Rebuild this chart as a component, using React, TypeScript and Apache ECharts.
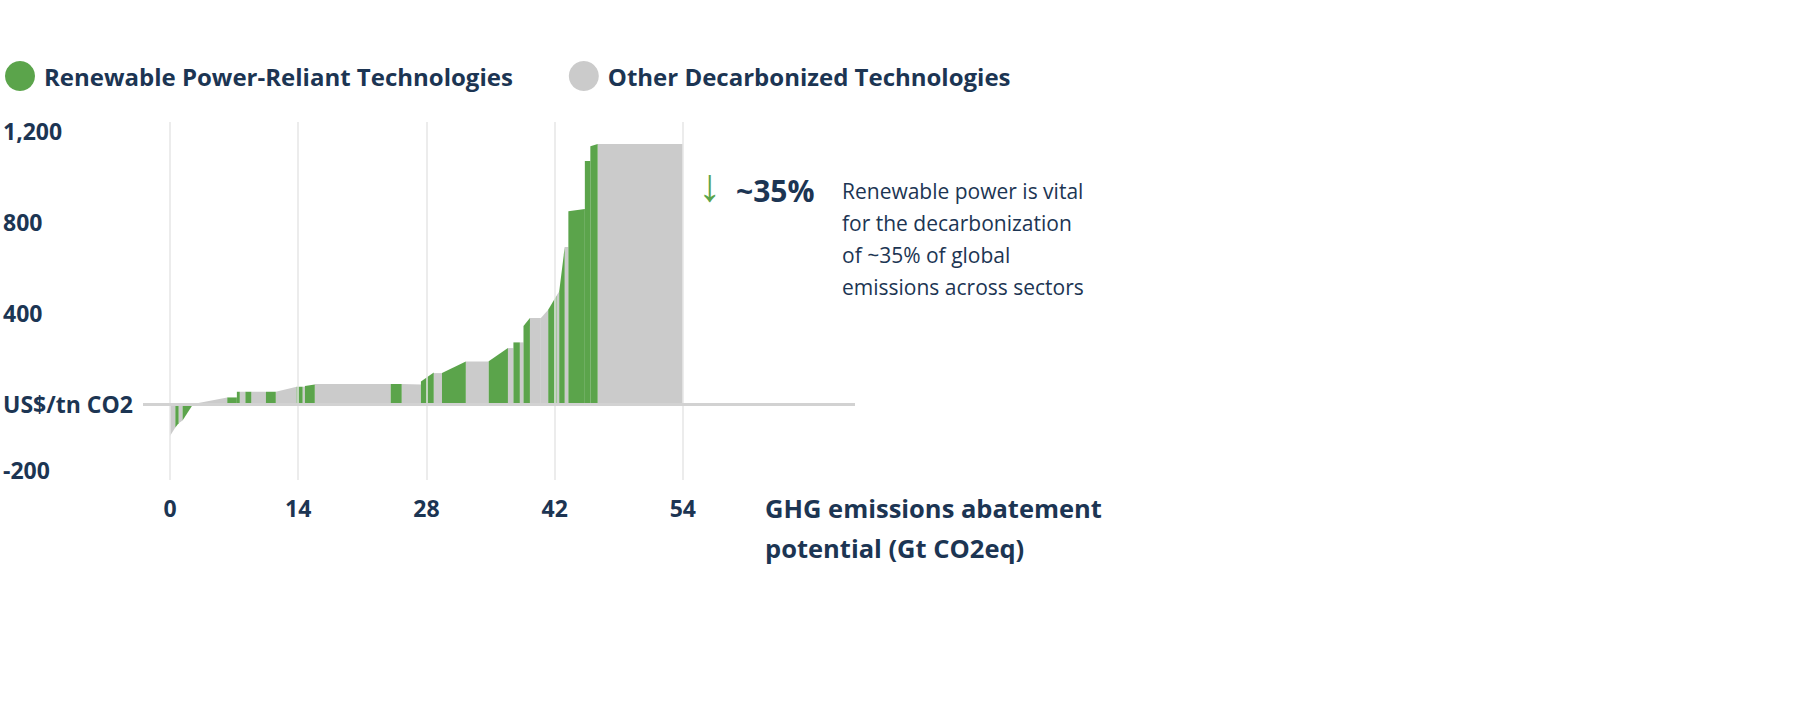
import { useEffect, useRef } from 'react'
import * as echarts from 'echarts'

// [x0, x1, valueLeft, valueRight] in Gt / US$ per tn
const greenBars = [
  [0.58, 0.94, -103, -84], [1.37, 2.53, -72, 0], [6.25, 7.3, 29, 29], [7.3, 7.62, 54, 54],
  [8.23, 8.88, 54, 54], [10.47, 11.55, 54, 54], [13.83, 14.48, 76, 76], [14.73, 15.81, 79, 86],
  [24.1, 25.3, 88, 88], [27.4, 28.8, 99, 139], [29.7, 32.3, 136, 187], [34.8, 36.9, 188, 246],
  [37.5, 38.2, 271, 271], [38.6, 39.3, 343, 378], [41.3, 42.2, 415, 476], [42.5, 43.1, 495, 690],
  [43.5, 45.3, 848, 857], [45.3, 45.9, 1069, 1069], [45.9, 46.7, 1133, 1143],
]
const grayBars = [
  [0, 0.58, -141, -103], [0.94, 1.37, -84, -72], [2.53, 6.25, 0, 29], [7.62, 8.23, 54, 54],
  [8.88, 10.47, 54, 54], [11.55, 13.83, 54, 76], [14.48, 14.73, 76, 76], [15.81, 24.1, 88, 88],
  [25.3, 27.4, 88, 86], [28.8, 29.7, 136, 136], [32.3, 34.8, 187, 187], [36.9, 37.5, 246, 246],
  [38.2, 38.6, 271, 271], [39.3, 40.5, 378, 378], [40.5, 41.3, 378, 415], [42.2, 42.5, 476, 495],
  [43.1, 43.5, 690, 690], [46.7, 56, 1143, 1143],
]
const xTicks = [0, 14, 28, 42, 56]
const xTickLabels = ['0', '14', '28', '42', '54']
const yTicks = [-290, 0, 400, 800, 1200]
const yTickLabels = ['-200', 'US$/tn CO2', '400', '800', '1,200']
const noteLines = [
  'Renewable power is vital',
  'for the decarbonization',
  'of ~35% of global',
  'emissions across sectors',
]

const GREEN = '#5ba44b'
const GRAY = '#cbcbcb'
const NAVY = '#1c3553'
const FONT = '"Open Sans", "Noto Sans", sans-serif'

const renderBar: echarts.CustomSeriesRenderItem = (_params, api) => {
  const x0 = api.value(0) as number
  const x1 = api.value(1) as number
  const p = [
    api.coord([x0, 0]),
    api.coord([x0, api.value(2)]),
    api.coord([x1, api.value(3)]),
    api.coord([x1, 0]),
  ]
  return {
    type: 'polygon',
    shape: { points: p },
    style: { fill: api.visual('color') },
  } as any
}

export default function App() {
  const chartRef = useRef<HTMLDivElement>(null)

  useEffect(() => {
    if (!chartRef.current) return
    const chart = echarts.init(chartRef.current, null, { renderer: 'svg' })
    chart.setOption({
      animation: false,
      legend: {
        left: 0,
        top: 56,
        icon: 'circle',
        itemWidth: 30,
        itemHeight: 30,
        itemGap: 56,
        textStyle: { color: NAVY, fontSize: 24, fontWeight: 'bold', fontFamily: FONT, padding: [0, 0, 0, 4] },
        data: ['Renewable Power-Reliant Technologies', 'Other Decarbonized Technologies'],
      },
      grid: { left: 143, right: 963, top: 122, bottom: 245 },
      xAxis: {
        type: 'value',
        min: -2.95,
        max: 74.8,
        axisLine: { show: false },
        axisTick: { show: false },
        splitLine: { show: false },
        axisLabel: {
          customValues: xTicks,
          formatter: (v: number) => xTickLabels[xTicks.indexOf(v)] ?? '',
          color: NAVY,
          fontSize: 23,
          fontWeight: 'bold',
          fontFamily: FONT,
          margin: 16,
        },
      },
      yAxis: {
        type: 'value',
        min: -334,
        max: 1240,
        axisLine: { show: false },
        axisTick: { show: false },
        splitLine: { show: false },
        axisLabel: {
          customValues: yTicks,
          formatter: (v: number) => yTickLabels[yTicks.indexOf(v)] ?? '',
          align: 'left',
          margin: 140,
          color: NAVY,
          fontSize: 23,
          fontWeight: 'bold',
          fontFamily: FONT,
        },
      },
      series: [
        {
          name: 'Other Decarbonized Technologies',
          type: 'custom',
          renderItem: renderBar,
          itemStyle: { color: GRAY },
          data: grayBars,
          z: 3,
          markLine: {
            silent: true,
            symbol: 'none',
            label: { show: false },
            data: xTicks.map((x) => ({ xAxis: x, lineStyle: { color: '#e6e6e6', width: 1.5, type: 'solid' } })),
          },
        },
        {
          name: 'Renewable Power-Reliant Technologies',
          type: 'custom',
          renderItem: renderBar,
          itemStyle: { color: GREEN },
          data: greenBars,
          z: 4,
          markLine: {
            silent: true,
            symbol: 'none',
            label: { show: false },
            z: 5,
            data: [{ yAxis: 0, lineStyle: { color: '#d2d2d2', width: 3, type: 'solid' } }],
          },
        },
      ],
      graphic: [
        {
          type: 'text',
          left: 765,
          top: 488,
          style: {
            text: 'GHG emissions abatement\npotential (Gt CO2eq)',
            fill: NAVY,
            fontSize: 25.5,
            fontWeight: 'bold',
            fontFamily: FONT,
            lineHeight: 40,
          },
        },
        {
          type: 'text',
          left: 698,
          top: 160,
          style: { text: '↓', fill: GREEN, fontSize: 46, fontFamily: FONT },
        },
        {
          type: 'text',
          left: 736,
          top: 175,
          style: { text: '~35%', fill: NAVY, fontSize: 30, fontWeight: 'bold', fontFamily: FONT },
        },
        {
          type: 'text',
          left: 842,
          top: 175,
          style: {
            text: noteLines.join('\n'),
            fill: NAVY,
            fontSize: 21,
            fontFamily: FONT,
            lineHeight: 32,
          },
        },
      ],
    })
    return () => chart.dispose()
  }, [])

  return <div ref={chartRef} style={{ position: 'fixed', left: 0, top: 0, width: 1818, height: 725, background: '#fff' }} />
}
